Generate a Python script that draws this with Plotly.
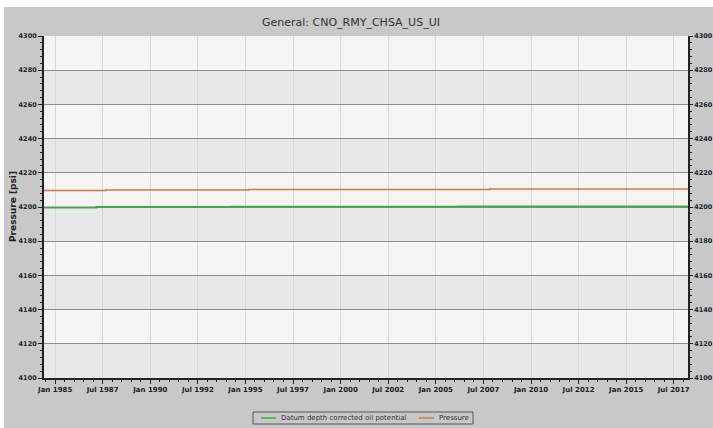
import plotly.graph_objects as go

title = "General: CNO_RMY_CHSA_US_UI"
x_title = "Date"
y_title = "Pressure [psi]"
green_name = "Datum depth corrected oil potential"
orange_name = "Pressure"

green_dates = ["1984-06-01", "1987-03-01", "1994-04-01", "2006-03-01", "2018-04-01"]
green_vals = [4199.7, 4200.0, 4200.1, 4200.3, 4200.3]

orange_dates = ["1984-06-01", "1987-09-01", "1995-03-01", "2007-11-01", "2018-04-01"]
orange_vals = [4209.6, 4209.9, 4210.2, 4210.5, 4210.5]

y_min, y_max, y_step = 4100, 4300, 20
x_start, x_end = "1984-06-01", "2018-04-01"

# position of the x-axis title, expressed in axis units (below the plot area)
x_title_at = "2001-05-01"
x_title_y = 4089

green_color = "#4fa24f"
orange_color = "#c97a4c"

W, H = 713, 428
L, R, T, B = 44, 25, 36, 50
PW, PH = W - L - R, H - T - B


def px_x(px):
    return (px - L) / PW


def px_y(py):
    return (H - B - py) / PH


fig = go.Figure()
fig.add_trace(go.Scatter(x=green_dates, y=green_vals, mode="lines", line_shape="hv",
                         name=green_name, line=dict(color=green_color, width=2), showlegend=False))
fig.add_trace(go.Scatter(x=orange_dates, y=orange_vals, mode="lines", line_shape="hv",
                         name=orange_name, line=dict(color=orange_color, width=1.5), showlegend=False))
# x-axis title drawn as text below the plot area
fig.add_trace(go.Scatter(x=[x_title_at], y=[x_title_y], mode="text", text=["<b>" + x_title + "</b>"],
                         textposition="middle center", cliponaxis=False, showlegend=False,
                         hoverinfo="skip",
                         textfont=dict(family="DejaVu Sans", size=9, color="#222")))
# invisible trace for right axis
fig.add_trace(go.Scatter(x=[x_start], y=[y_min], yaxis="y2", mode="markers",
                         marker=dict(opacity=0), showlegend=False, hoverinfo="skip"))

tickfont = dict(family="DejaVu Sans", size=7, color="#222", weight="bold")
ytickfont = dict(family="DejaVu Sans", size=6.5, color="#222", weight="bold")

shapes = []
for lo in range(y_min, y_max, 2 * y_step):
    shapes.append(dict(type="rect", xref="x domain", yref="y", x0=0, x1=1, y0=lo, y1=lo + y_step,
                       fillcolor="#e8e8e8", line_width=0, layer="below"))
# white strips at top/left of image
shapes.append(dict(type="rect", xref="paper", yref="paper", x0=px_x(0), x1=px_x(4),
                   y0=px_y(H), y1=px_y(0), fillcolor="white", line_width=0, layer="above"))
shapes.append(dict(type="rect", xref="paper", yref="paper", x0=px_x(0), x1=px_x(W),
                   y0=px_y(7), y1=px_y(0), fillcolor="white", line_width=0, layer="above"))

# custom compact legend
leg_x0, leg_x1, leg_y0, leg_y1 = 253, 473, 412, 424
shapes.append(dict(type="rect", xref="paper", yref="paper", x0=px_x(leg_x0), x1=px_x(leg_x1),
                   y0=px_y(leg_y1), y1=px_y(leg_y0), fillcolor="#c8c8c8",
                   line=dict(color="#555", width=1)))
ly = px_y((leg_y0 + leg_y1) / 2)
shapes.append(dict(type="line", xref="paper", yref="paper", x0=px_x(261), x1=px_x(276),
                   y0=ly, y1=ly, line=dict(color="#5cb85c", width=2)))
shapes.append(dict(type="line", xref="paper", yref="paper", x0=px_x(419), x1=px_x(434),
                   y0=ly, y1=ly, line=dict(color="#c8906c", width=2)))
annotations = [
    dict(text=green_name, xref="paper", yref="paper", x=px_x(279), y=ly, xanchor="left",
         yanchor="middle", showarrow=False, font=dict(family="DejaVu Sans", size=7, color="#333")),
    dict(text=orange_name, xref="paper", yref="paper", x=px_x(437), y=ly, xanchor="left",
         yanchor="middle", showarrow=False, font=dict(family="DejaVu Sans", size=7, color="#333")),
    dict(text="<b>" + y_title + "</b>", xref="paper", yref="paper", x=px_x(13), y=px_y(207),
         xanchor="center", yanchor="middle", showarrow=False, textangle=-90,
         font=dict(family="DejaVu Sans", size=9, color="#222")),
]

fig.update_layout(
    width=W, height=H,
    margin=dict(l=L, r=R, t=T, b=B),
    paper_bgcolor="#c8c8c8",
    plot_bgcolor="#f4f4f4",
    shapes=shapes,
    annotations=annotations,
    title=dict(text=title, x=px_x(361), xanchor="center", y=1 - 22 / H, yanchor="middle",
               font=dict(family="DejaVu Sans", size=11, color="#333")),
    showlegend=False,
    xaxis=dict(
        type="date", range=[x_start, x_end], automargin=False,
        tick0="1985-01-01", dtick="M30", tickformat="%b %Y",
        tickfont=tickfont, ticks="outside", ticklen=4, tickcolor="#222",
        showgrid=True, gridcolor="#d8d8d8", gridwidth=1,
        showline=True, linecolor="#222", linewidth=2,
        minor=dict(dtick="M6", ticks="outside", ticklen=2, tickcolor="#222", showgrid=False),
        zeroline=False,
    ),
    yaxis=dict(
        range=[y_min, y_max], dtick=y_step, tick0=y_min, automargin=False,
        tickfont=ytickfont, ticks="outside", ticklen=4, tickcolor="#222",
        showgrid=True, gridcolor="#8c8c8c", gridwidth=1,
        showline=True, linecolor="#222", linewidth=2,
        minor=dict(dtick=4, ticks="outside", ticklen=2, tickcolor="#222", showgrid=False),
        zeroline=False,
    ),
    yaxis2=dict(
        overlaying="y", side="right", automargin=False,
        range=[y_min, y_max], dtick=y_step, tick0=y_min,
        tickfont=ytickfont, ticks="outside", ticklen=3, tickcolor="#222",
        showgrid=False, showline=True, linecolor="#222", linewidth=2,
        minor=dict(dtick=4, ticks="outside", ticklen=2, tickcolor="#222"),
        zeroline=False,
    ),
)

fig.write_html(
    "out.html",
    config={"displayModeBar": False, "responsive": False},
    post_script="document.body.style.margin='0px';document.body.style.overflow='hidden';",
)
